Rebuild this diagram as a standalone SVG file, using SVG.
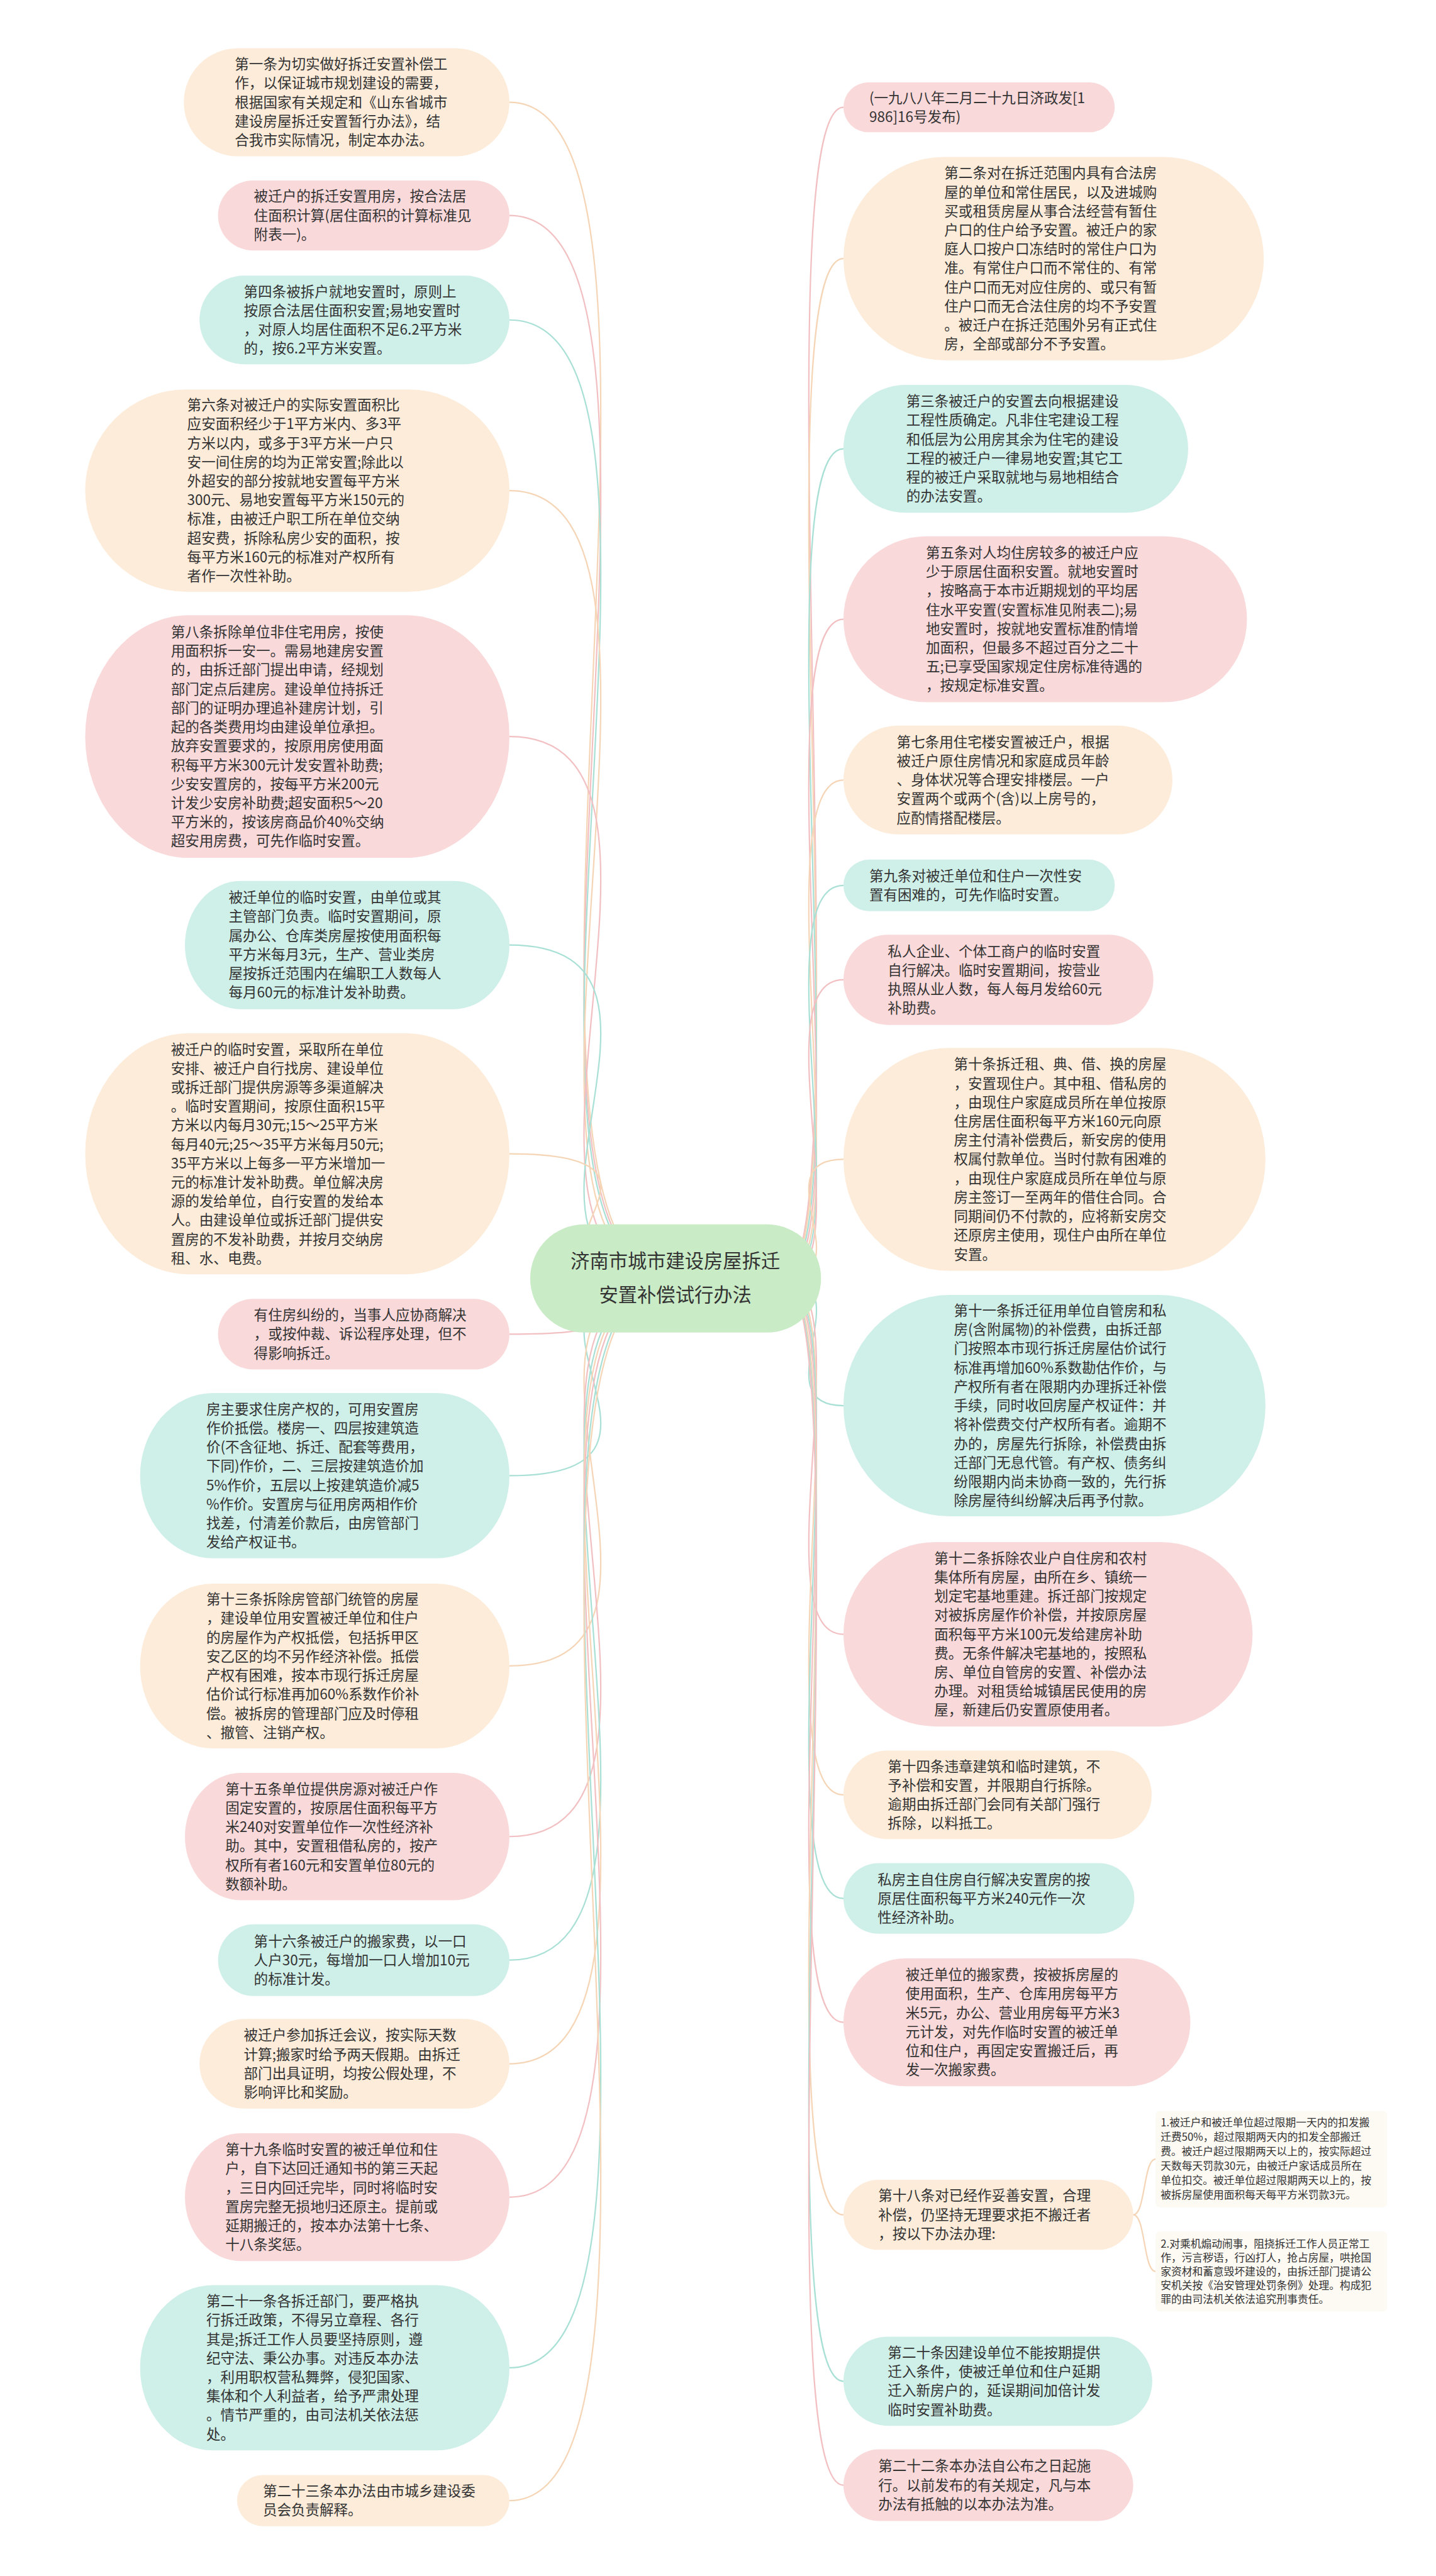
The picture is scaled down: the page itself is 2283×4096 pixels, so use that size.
<svg xmlns="http://www.w3.org/2000/svg" width="2283" height="4096" viewBox="0 0 2283 4096">
<style>
.t{font-family:"Noto Sans CJK SC","Noto Sans",sans-serif;font-size:25.3px;fill:#333333}
.c{font-family:"Noto Sans CJK SC","Noto Sans",sans-serif;font-size:34px;fill:#333333;text-anchor:middle}
.s{font-family:"Noto Sans CJK SC","Noto Sans",sans-serif;font-size:18.8px;fill:#333333}
.o{fill:#FDECDA}.p{fill:#FAD9DA}.g{fill:#CFEFE9}.m{fill:#C9EBC6}.nb{fill:#FDF9F3}
.l{fill:none;stroke-width:2.5}
.lo{stroke:#F5D5B6}.lp{stroke:#F2C0C2}.lg{stroke:#A9E0D5}
</style>
<rect width="2283" height="4096" fill="#ffffff"/>
<g transform="scale(0.891)">
<g id="connectors">
<path class="l lo" d="M909 182.5C1297 182.5 817 2281 1205 2281"/>
<path class="l lp" d="M909 384.5C1297 384.5 817 2281 1205 2281"/>
<path class="l lg" d="M909 571C1297 571 817 2281 1205 2281"/>
<path class="l lo" d="M909 875.5C1297 875.5 817 2281 1205 2281"/>
<path class="l lp" d="M909 1314.5C1297 1314.5 817 2281 1205 2281"/>
<path class="l lg" d="M909 1686.5C1297 1686.5 817 2281 1205 2281"/>
<path class="l lo" d="M909 2059C1297 2059 817 2281 1205 2281"/>
<path class="l lp" d="M909 2381C1297 2381 817 2281 1205 2281"/>
<path class="l lg" d="M909 2633.5C1297 2633.5 817 2281 1205 2281"/>
<path class="l lo" d="M909 2973C1297 2973 817 2281 1205 2281"/>
<path class="l lp" d="M909 3277.5C1297 3277.5 817 2281 1205 2281"/>
<path class="l lg" d="M909 3498C1297 3498 817 2281 1205 2281"/>
<path class="l lo" d="M909 3683C1297 3683 817 2281 1205 2281"/>
<path class="l lp" d="M909 3921C1297 3921 817 2281 1205 2281"/>
<path class="l lg" d="M909 4225.5C1297 4225.5 817 2281 1205 2281"/>
<path class="l lo" d="M909 4462.5C1297 4462.5 817 2281 1205 2281"/>
<path class="l lp" d="M1505 191.5C1355 191.5 1545 2281 1395 2281"/>
<path class="l lo" d="M1505 461.5C1355 461.5 1545 2281 1395 2281"/>
<path class="l lg" d="M1505 801C1355 801 1545 2281 1395 2281"/>
<path class="l lp" d="M1505 1105C1355 1105 1545 2281 1395 2281"/>
<path class="l lo" d="M1505 1392C1355 1392 1545 2281 1395 2281"/>
<path class="l lg" d="M1505 1580C1355 1580 1545 2281 1395 2281"/>
<path class="l lp" d="M1505 1748.5C1355 1748.5 1545 2281 1395 2281"/>
<path class="l lo" d="M1505 2069C1355 2069 1545 2281 1395 2281"/>
<path class="l lg" d="M1505 2508.5C1355 2508.5 1545 2281 1395 2281"/>
<path class="l lp" d="M1505 2916.5C1355 2916.5 1545 2281 1395 2281"/>
<path class="l lo" d="M1505 3203C1355 3203 1545 2281 1395 2281"/>
<path class="l lg" d="M1505 3388C1355 3388 1545 2281 1395 2281"/>
<path class="l lp" d="M1505 3609C1355 3609 1545 2281 1395 2281"/>
<path class="l lo" d="M1505 3952.5C1355 3952.5 1545 2281 1395 2281"/>
<path class="l lg" d="M1505 4249.5C1355 4249.5 1545 2281 1395 2281"/>
<path class="l lp" d="M1505 4435C1355 4435 1545 2281 1395 2281"/>
<path class="l lo" d="M2022 3952.5C2044 3952.5 2040 3853 2062 3853"/>
<path class="l lo" d="M2022 3952.5C2044 3952.5 2040 4053.5 2062 4053.5"/>
</g>
<g id="center"><rect class="m" x="946" y="2185" width="519" height="193" rx="96.5"/><text class="c" x="1205" y="2263"><tspan x="1205">济南市城市建设房屋拆迁</tspan><tspan x="1205" dy="60">安置补偿试行办法</tspan></text></g>
<g id="l1"><rect class="o" x="328" y="86" width="581" height="193" rx="96.5"/><text class="t" x="419" y="123.7"><tspan x="419">第一条为切实做好拆迁安置补偿工</tspan><tspan x="419" dy="33.9">作，以保证城市规划建设的需要，</tspan><tspan x="419" dy="33.9">根据国家有关规定和《山东省城市</tspan><tspan x="419" dy="33.9">建设房屋拆迁安置暂行办法》，结</tspan><tspan x="419" dy="33.9">合我市实际情况，制定本办法。</tspan></text></g>
<g id="l2"><rect class="p" x="389" y="322" width="520" height="125" rx="62.5"/><text class="t" x="453" y="359.6"><tspan x="453">被迁户的拆迁安置用房，按合法居</tspan><tspan x="453" dy="33.9">住面积计算(居住面积的计算标准见</tspan><tspan x="453" dy="33.9">附表一)。</tspan></text></g>
<g id="l3"><rect class="g" x="356" y="492" width="553" height="158" rx="79"/><text class="t" x="435" y="529.2"><tspan x="435">第四条被拆户就地安置时，原则上</tspan><tspan x="435" dy="33.9">按原合法居住面积安置;易地安置时</tspan><tspan x="435" dy="33.9">，对原人均居住面积不足6.2平方米</tspan><tspan x="435" dy="33.9">的，按6.2平方米安置。</tspan></text></g>
<g id="l4"><rect class="o" x="152" y="695" width="757" height="361" rx="180" ry="180.5"/><text class="t" x="334" y="732"><tspan x="334">第六条对被迁户的实际安置面积比</tspan><tspan x="334" dy="33.9">应安面积经少于1平方米内、多3平</tspan><tspan x="334" dy="33.9">方米以内，或多于3平方米一户只</tspan><tspan x="334" dy="33.9">安一间住房的均为正常安置;除此以</tspan><tspan x="334" dy="33.9">外超安的部分按就地安置每平方米</tspan><tspan x="334" dy="33.9">300元、易地安置每平方米150元的</tspan><tspan x="334" dy="33.9">标准，由被迁户职工所在单位交纳</tspan><tspan x="334" dy="33.9">超安费，拆除私房少安的面积，按</tspan><tspan x="334" dy="33.9">每平方米160元的标准对产权所有</tspan><tspan x="334" dy="33.9">者作一次性补助。</tspan></text></g>
<g id="l5"><rect class="p" x="152" y="1098" width="757" height="433" rx="185" ry="216.5"/><text class="t" x="305" y="1137"><tspan x="305">第八条拆除单位非住宅用房，按使</tspan><tspan x="305" dy="33.9">用面积拆一安一。需易地建房安置</tspan><tspan x="305" dy="33.9">的，由拆迁部门提出申请，经规划</tspan><tspan x="305" dy="33.9">部门定点后建房。建设单位持拆迁</tspan><tspan x="305" dy="33.9">部门的证明办理追补建房计划，引</tspan><tspan x="305" dy="33.9">起的各类费用均由建设单位承担。</tspan><tspan x="305" dy="33.9">放弃安置要求的，按原用房使用面</tspan><tspan x="305" dy="33.9">积每平方米300元计发安置补助费;</tspan><tspan x="305" dy="33.9">少安安置房的，按每平方米200元</tspan><tspan x="305" dy="33.9">计发少安房补助费;超安面积5～20</tspan><tspan x="305" dy="33.9">平方米的，按该房商品价40%交纳</tspan><tspan x="305" dy="33.9">超安用房费，可先作临时安置。</tspan></text></g>
<g id="l6"><rect class="g" x="330" y="1572" width="579" height="229" rx="100" ry="114.5"/><text class="t" x="408" y="1610.8"><tspan x="408">被迁单位的临时安置，由单位或其</tspan><tspan x="408" dy="33.9">主管部门负责。临时安置期间，原</tspan><tspan x="408" dy="33.9">属办公、仓库类房屋按使用面积每</tspan><tspan x="408" dy="33.9">平方米每月3元，生产、营业类房</tspan><tspan x="408" dy="33.9">屋按拆迁范围内在编职工人数每人</tspan><tspan x="408" dy="33.9">每月60元的标准计发补助费。</tspan></text></g>
<g id="l7"><rect class="o" x="152" y="1844" width="757" height="430" rx="185" ry="215"/><text class="t" x="305" y="1881.6"><tspan x="305">被迁户的临时安置，采取所在单位</tspan><tspan x="305" dy="33.9">安排、被迁户自行找房、建设单位</tspan><tspan x="305" dy="33.9">或拆迁部门提供房源等多渠道解决</tspan><tspan x="305" dy="33.9">。临时安置期间，按原住面积15平</tspan><tspan x="305" dy="33.9">方米以内每月30元;15～25平方米</tspan><tspan x="305" dy="33.9">每月40元;25～35平方米每月50元;</tspan><tspan x="305" dy="33.9">35平方米以上每多一平方米增加一</tspan><tspan x="305" dy="33.9">元的标准计发补助费。单位解决房</tspan><tspan x="305" dy="33.9">源的发给单位，自行安置的发给本</tspan><tspan x="305" dy="33.9">人。由建设单位或拆迁部门提供安</tspan><tspan x="305" dy="33.9">置房的不发补助费，并按月交纳房</tspan><tspan x="305" dy="33.9">租、水、电费。</tspan></text></g>
<g id="l8"><rect class="p" x="389" y="2318" width="520" height="126" rx="63"/><text class="t" x="453" y="2356.1"><tspan x="453">有住房纠纷的，当事人应协商解决</tspan><tspan x="453" dy="33.9">，或按仲裁、诉讼程序处理，但不</tspan><tspan x="453" dy="33.9">得影响拆迁。</tspan></text></g>
<g id="l9"><rect class="g" x="250" y="2486" width="659" height="295" rx="130" ry="147.5"/><text class="t" x="368" y="2523.9"><tspan x="368">房主要求住房产权的，可用安置房</tspan><tspan x="368" dy="33.9">作价抵偿。楼房一、四层按建筑造</tspan><tspan x="368" dy="33.9">价(不含征地、拆迁、配套等费用，</tspan><tspan x="368" dy="33.9">下同)作价，二、三层按建筑造价加</tspan><tspan x="368" dy="33.9">5%作价，五层以上按建筑造价减5</tspan><tspan x="368" dy="33.9">%作价。安置房与征用房两相作价</tspan><tspan x="368" dy="33.9">找差，付清差价款后，由房管部门</tspan><tspan x="368" dy="33.9">发给产权证书。</tspan></text></g>
<g id="l10"><rect class="o" x="250" y="2826" width="659" height="294" rx="130" ry="147"/><text class="t" x="368" y="2863.4"><tspan x="368">第十三条拆除房管部门统管的房屋</tspan><tspan x="368" dy="33.9">，建设单位用安置被迁单位和住户</tspan><tspan x="368" dy="33.9">的房屋作为产权抵偿，包括拆甲区</tspan><tspan x="368" dy="33.9">安乙区的均不另作经济补偿。抵偿</tspan><tspan x="368" dy="33.9">产权有困难，按本市现行拆迁房屋</tspan><tspan x="368" dy="33.9">估价试行标准再加60%系数作价补</tspan><tspan x="368" dy="33.9">偿。被拆房的管理部门应及时停租</tspan><tspan x="368" dy="33.9">、撤管、注销产权。</tspan></text></g>
<g id="l11"><rect class="p" x="330" y="3164" width="579" height="227" rx="100" ry="113.5"/><text class="t" x="402" y="3201.8"><tspan x="402">第十五条单位提供房源对被迁户作</tspan><tspan x="402" dy="33.9">固定安置的，按原居住面积每平方</tspan><tspan x="402" dy="33.9">米240对安置单位作一次性经济补</tspan><tspan x="402" dy="33.9">助。其中，安置租借私房的，按产</tspan><tspan x="402" dy="33.9">权所有者160元和安置单位80元的</tspan><tspan x="402" dy="33.9">数额补助。</tspan></text></g>
<g id="l12"><rect class="g" x="389" y="3434" width="520" height="128" rx="64"/><text class="t" x="453" y="3473.1"><tspan x="453">第十六条被迁户的搬家费，以一口</tspan><tspan x="453" dy="33.9">人户30元，每增加一口人增加10元</tspan><tspan x="453" dy="33.9">的标准计发。</tspan></text></g>
<g id="l13"><rect class="o" x="356" y="3603" width="553" height="160" rx="80"/><text class="t" x="435" y="3641.2"><tspan x="435">被迁户参加拆迁会议，按实际天数</tspan><tspan x="435" dy="33.9">计算;搬家时给予两天假期。由拆迁</tspan><tspan x="435" dy="33.9">部门出具证明，均按公假处理，不</tspan><tspan x="435" dy="33.9">影响评比和奖励。</tspan></text></g>
<g id="l14"><rect class="p" x="330" y="3807" width="579" height="228" rx="100" ry="114"/><text class="t" x="402" y="3845.3"><tspan x="402">第十九条临时安置的被迁单位和住</tspan><tspan x="402" dy="33.9">户，自下达回迁通知书的第三天起</tspan><tspan x="402" dy="33.9">，三日内回迁完毕，同时将临时安</tspan><tspan x="402" dy="33.9">置房完整无损地归还原主。提前或</tspan><tspan x="402" dy="33.9">延期搬迁的，按本办法第十七条、</tspan><tspan x="402" dy="33.9">十八条奖惩。</tspan></text></g>
<g id="l15"><rect class="g" x="250" y="4078" width="659" height="295" rx="130" ry="147.5"/><text class="t" x="368" y="4115.9"><tspan x="368">第二十一条各拆迁部门，要严格执</tspan><tspan x="368" dy="33.9">行拆迁政策，不得另立章程、各行</tspan><tspan x="368" dy="33.9">其是;拆迁工作人员要坚持原则，遵</tspan><tspan x="368" dy="33.9">纪守法、秉公办事。对违反本办法</tspan><tspan x="368" dy="33.9">，利用职权营私舞弊，侵犯国家、</tspan><tspan x="368" dy="33.9">集体和个人利益者，给予严肃处理</tspan><tspan x="368" dy="33.9">。情节严重的，由司法机关依法惩</tspan><tspan x="368" dy="33.9">处。</tspan></text></g>
<g id="l16"><rect class="o" x="423" y="4417" width="486" height="91" rx="45.5"/><text class="t" x="469" y="4454.6"><tspan x="469">第二十三条本办法由市城乡建设委</tspan><tspan x="469" dy="33.9">员会负责解释。</tspan></text></g>
<g id="r1"><rect class="p" x="1505" y="147" width="484" height="89" rx="44.5"/><text class="t" x="1551" y="183.6"><tspan x="1551">(一九八八年二月二十九日济政发[1</tspan><tspan x="1551" dy="33.9">986]16号发布)</tspan></text></g>
<g id="r2"><rect class="o" x="1505" y="280" width="750" height="363" rx="181.5"/><text class="t" x="1685" y="318"><tspan x="1685">第二条对在拆迁范围内具有合法房</tspan><tspan x="1685" dy="33.9">屋的单位和常住居民，以及进城购</tspan><tspan x="1685" dy="33.9">买或租赁房屋从事合法经营有暂住</tspan><tspan x="1685" dy="33.9">户口的住户给予安置。被迁户的家</tspan><tspan x="1685" dy="33.9">庭人口按户口冻结时的常住户口为</tspan><tspan x="1685" dy="33.9">准。有常住户口而不常住的、有常</tspan><tspan x="1685" dy="33.9">住户口而无对应住房的、或只有暂</tspan><tspan x="1685" dy="33.9">住户口而无合法住房的均不予安置</tspan><tspan x="1685" dy="33.9">。被迁户在拆迁范围外另有正式住</tspan><tspan x="1685" dy="33.9">房，全部或部分不予安置。</tspan></text></g>
<g id="r3"><rect class="g" x="1505" y="687" width="615" height="228" rx="110" ry="114"/><text class="t" x="1617" y="725.3"><tspan x="1617">第三条被迁户的安置去向根据建设</tspan><tspan x="1617" dy="33.9">工程性质确定。凡非住宅建设工程</tspan><tspan x="1617" dy="33.9">和低层为公用房其余为住宅的建设</tspan><tspan x="1617" dy="33.9">工程的被迁户一律易地安置;其它工</tspan><tspan x="1617" dy="33.9">程的被迁户采取就地与易地相结合</tspan><tspan x="1617" dy="33.9">的办法安置。</tspan></text></g>
<g id="r4"><rect class="p" x="1505" y="957" width="720" height="296" rx="148"/><text class="t" x="1652" y="995.4"><tspan x="1652">第五条对人均住房较多的被迁户应</tspan><tspan x="1652" dy="33.9">少于原居住面积安置。就地安置时</tspan><tspan x="1652" dy="33.9">，按略高于本市近期规划的平均居</tspan><tspan x="1652" dy="33.9">住水平安置(安置标准见附表二);易</tspan><tspan x="1652" dy="33.9">地安置时，按就地安置标准酌情增</tspan><tspan x="1652" dy="33.9">加面积，但最多不超过百分之二十</tspan><tspan x="1652" dy="33.9">五;已享受国家规定住房标准待遇的</tspan><tspan x="1652" dy="33.9">，按规定标准安置。</tspan></text></g>
<g id="r5"><rect class="o" x="1505" y="1295" width="587" height="194" rx="97"/><text class="t" x="1600" y="1333.2"><tspan x="1600">第七条用住宅楼安置被迁户，根据</tspan><tspan x="1600" dy="33.9">被迁户原住房情况和家庭成员年龄</tspan><tspan x="1600" dy="33.9">、身体状况等合理安排楼层。一户</tspan><tspan x="1600" dy="33.9">安置两个或两个(含)以上房号的，</tspan><tspan x="1600" dy="33.9">应酌情搭配楼层。</tspan></text></g>
<g id="r6"><rect class="g" x="1505" y="1534" width="484" height="92" rx="46"/><text class="t" x="1551" y="1572"><tspan x="1551">第九条对被迁单位和住户一次性安</tspan><tspan x="1551" dy="33.9">置有困难的，可先作临时安置。</tspan></text></g>
<g id="r7"><rect class="p" x="1505" y="1668" width="553" height="161" rx="80.5"/><text class="t" x="1584" y="1706.7"><tspan x="1584">私人企业、个体工商户的临时安置</tspan><tspan x="1584" dy="33.9">自行解决。临时安置期间，按营业</tspan><tspan x="1584" dy="33.9">执照从业人数，每人每月发给60元</tspan><tspan x="1584" dy="33.9">补助费。</tspan></text></g>
<g id="r8"><rect class="o" x="1505" y="1870" width="753" height="398" rx="190" ry="199"/><text class="t" x="1702" y="1908.5"><tspan x="1702">第十条拆迁租、典、借、换的房屋</tspan><tspan x="1702" dy="33.9">，安置现住户。其中租、借私房的</tspan><tspan x="1702" dy="33.9">，由现住户家庭成员所在单位按原</tspan><tspan x="1702" dy="33.9">住房居住面积每平方米160元向原</tspan><tspan x="1702" dy="33.9">房主付清补偿费后，新安房的使用</tspan><tspan x="1702" dy="33.9">权属付款单位。当时付款有困难的</tspan><tspan x="1702" dy="33.9">，由现住户家庭成员所在单位与原</tspan><tspan x="1702" dy="33.9">房主签订一至两年的借住合同。合</tspan><tspan x="1702" dy="33.9">同期间仍不付款的，应将新安房交</tspan><tspan x="1702" dy="33.9">还原房主使用，现住户由所在单位</tspan><tspan x="1702" dy="33.9">安置。</tspan></text></g>
<g id="r9"><rect class="g" x="1505" y="2311" width="753" height="395" rx="190" ry="197.5"/><text class="t" x="1702" y="2348"><tspan x="1702">第十一条拆迁征用单位自管房和私</tspan><tspan x="1702" dy="33.9">房(含附属物)的补偿费，由拆迁部</tspan><tspan x="1702" dy="33.9">门按照本市现行拆迁房屋估价试行</tspan><tspan x="1702" dy="33.9">标准再增加60%系数勘估作价，与</tspan><tspan x="1702" dy="33.9">产权所有者在限期内办理拆迁补偿</tspan><tspan x="1702" dy="33.9">手续，同时收回房屋产权证件：并</tspan><tspan x="1702" dy="33.9">将补偿费交付产权所有者。逾期不</tspan><tspan x="1702" dy="33.9">办的，房屋先行拆除，补偿费由拆</tspan><tspan x="1702" dy="33.9">迁部门无息代管。有产权、债务纠</tspan><tspan x="1702" dy="33.9">纷限期内尚未协商一致的，先行拆</tspan><tspan x="1702" dy="33.9">除房屋待纠纷解决后再予付款。</tspan></text></g>
<g id="r10"><rect class="p" x="1505" y="2752" width="730" height="329" rx="164.5"/><text class="t" x="1667" y="2789.9"><tspan x="1667">第十二条拆除农业户自住房和农村</tspan><tspan x="1667" dy="33.9">集体所有房屋，由所在乡、镇统一</tspan><tspan x="1667" dy="33.9">划定宅基地重建。拆迁部门按规定</tspan><tspan x="1667" dy="33.9">对被拆房屋作价补偿，并按原房屋</tspan><tspan x="1667" dy="33.9">面积每平方米100元发给建房补助</tspan><tspan x="1667" dy="33.9">费。无条件解决宅基地的，按照私</tspan><tspan x="1667" dy="33.9">房、单位自管房的安置、补偿办法</tspan><tspan x="1667" dy="33.9">办理。对租赁给城镇居民使用的房</tspan><tspan x="1667" dy="33.9">屋，新建后仍安置原使用者。</tspan></text></g>
<g id="r11"><rect class="o" x="1505" y="3124" width="550" height="158" rx="79"/><text class="t" x="1584" y="3161.2"><tspan x="1584">第十四条违章建筑和临时建筑，不</tspan><tspan x="1584" dy="33.9">予补偿和安置，并限期自行拆除。</tspan><tspan x="1584" dy="33.9">逾期由拆迁部门会同有关部门强行</tspan><tspan x="1584" dy="33.9">拆除，以料抵工。</tspan></text></g>
<g id="r12"><rect class="g" x="1505" y="3325" width="519" height="126" rx="63"/><text class="t" x="1566" y="3363.1"><tspan x="1566">私房主自住房自行解决安置房的按</tspan><tspan x="1566" dy="33.9">原居住面积每平方米240元作一次</tspan><tspan x="1566" dy="33.9">性经济补助。</tspan></text></g>
<g id="r13"><rect class="p" x="1505" y="3495" width="619" height="228" rx="110" ry="114"/><text class="t" x="1616" y="3533.3"><tspan x="1616">被迁单位的搬家费，按被拆房屋的</tspan><tspan x="1616" dy="33.9">使用面积，生产、仓库用房每平方</tspan><tspan x="1616" dy="33.9">米5元，办公、营业用房每平方米3</tspan><tspan x="1616" dy="33.9">元计发，对先作临时安置的被迁单</tspan><tspan x="1616" dy="33.9">位和住户，再固定安置搬迁后，再</tspan><tspan x="1616" dy="33.9">发一次搬家费。</tspan></text></g>
<g id="r14"><rect class="o" x="1505" y="3890" width="517" height="125" rx="62.5"/><text class="t" x="1567" y="3927.6"><tspan x="1567">第十八条对已经作妥善安置，合理</tspan><tspan x="1567" dy="33.9">补偿，仍坚持无理要求拒不搬迁者</tspan><tspan x="1567" dy="33.9">，按以下办法办理:</tspan></text></g>
<g id="r15"><rect class="g" x="1505" y="4170" width="551" height="159" rx="79.5"/><text class="t" x="1584" y="4207.7"><tspan x="1584">第二十条因建设单位不能按期提供</tspan><tspan x="1584" dy="33.9">迁入条件，使被迁单位和住户延期</tspan><tspan x="1584" dy="33.9">迁入新房户的，延误期间加倍计发</tspan><tspan x="1584" dy="33.9">临时安置补助费。</tspan></text></g>
<g id="r16"><rect class="p" x="1505" y="4371" width="517" height="128" rx="64"/><text class="t" x="1567" y="4410.1"><tspan x="1567">第二十二条本办法自公布之日起施</tspan><tspan x="1567" dy="33.9">行。以前发布的有关规定，凡与本</tspan><tspan x="1567" dy="33.9">办法有抵触的以本办法为准。</tspan></text></g>
<g id="note1"><rect class="nb" x="2062" y="3767" width="413" height="172" rx="8"/><text class="s" x="2071" y="3795"><tspan x="2071">1.被迁户和被迁单位超过限期一天内的扣发搬</tspan><tspan x="2071" dy="25.8">迁费50%，超过限期两天内的扣发全部搬迁</tspan><tspan x="2071" dy="25.8">费。被迁户超过限期两天以上的，按实际超过</tspan><tspan x="2071" dy="25.8">天数每天罚款30元，由被迁户家话成员所在</tspan><tspan x="2071" dy="25.8">单位扣交。被迁单位超过限期两天以上的，按</tspan><tspan x="2071" dy="25.8">被拆房屋使用面积每天每平方米罚款3元。</tspan></text></g>
<g id="note2"><rect class="nb" x="2062" y="3982" width="413" height="143" rx="8"/><text class="s" x="2071" y="4011"><tspan x="2071">2.对乘机煽动闹事，阻挠拆迁工作人员正常工</tspan><tspan x="2071" dy="24.8">作，污言秽语，行凶打人，抢占房屋，哄抢国</tspan><tspan x="2071" dy="24.8">家资材和蓄意毁坏建设的，由拆迁部门提请公</tspan><tspan x="2071" dy="24.8">安机关按《治安管理处罚条例》处理。构成犯</tspan><tspan x="2071" dy="24.8">罪的由司法机关依法追究刑事责任。</tspan></text></g>
</g>
</svg>
